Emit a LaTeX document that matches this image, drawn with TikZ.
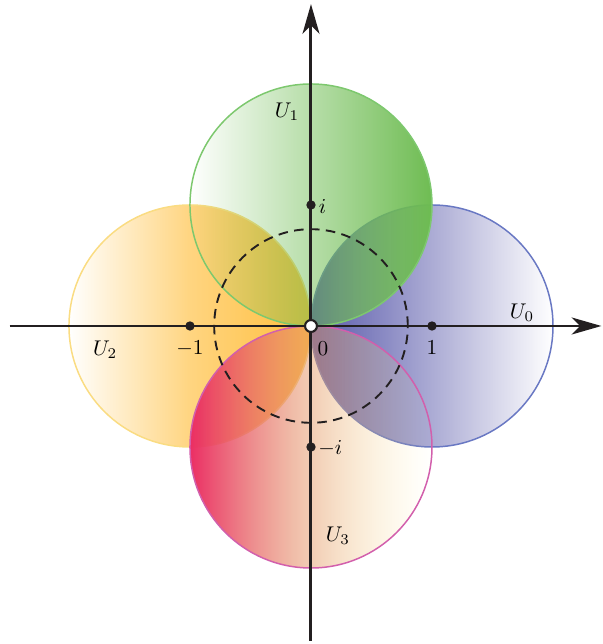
\documentclass[tikz,border=0pt]{standalone}
\usetikzlibrary{arrows.meta,fadings}
\definecolor{uzeroC}{RGB}{88,88,170}
\definecolor{uzeroD}{RGB}{105,120,195}
\definecolor{uoneC}{RGB}{110,188,82}
\definecolor{uoneD}{RGB}{125,200,110}
\definecolor{utwoC}{RGB}{255,190,60}
\definecolor{utwoD}{RGB}{250,220,130}
\definecolor{uthreeL}{RGB}{235,45,100}
\definecolor{uthreeM}{RGB}{228,155,105}
\definecolor{uthreeR}{RGB}{255,240,150}
\definecolor{uthreeD}{RGB}{210,95,172}
\definecolor{axiscol}{RGB}{35,31,32}
\tikzfading[name=opaqueright, left color=transparent!100, right color=transparent!0]
\tikzfading[name=opaquerightfast, left color=transparent!100, right color=transparent!0, middle color=transparent!35]
\tikzfading[name=opaqueleft, left color=transparent!0, right color=transparent!100]
\begin{document}
\begin{tikzpicture}[x=2cm,y=2cm,
  rim/.style={line width=0.7pt},
  axisline/.style={line width=1.4pt, draw=axiscol, -{Stealth[length=14pt,width=8pt,inset=4pt]}},
  dotpt/.style={circle, fill=axiscol, inner sep=0pt, minimum size=4.4pt},
  origpt/.style={circle, fill=white, draw=axiscol, line width=1pt, inner sep=0pt, minimum size=5.6pt},
  lbl/.style={inner sep=1pt, font=\normalsize}]
\useasboundingbox (-2.570,-2.628) rectangle (2.413,2.694);
\coordinate (c0) at (1,0);
\coordinate (c1) at (0,1);
\coordinate (c2) at (-1,0);
\coordinate (c3) at (0,-1);
% regions
\fill[uzeroC, path fading=opaqueleft] (c0) circle (1);
\draw[rim, uzeroD] (c0) circle (1);
\fill[utwoC, path fading=opaquerightfast] (c2) circle (1);
\draw[rim, utwoD] (c2) circle (1);
\fill[uoneC, path fading=opaqueright] (c1) circle (1);
\draw[rim, uoneD] (c1) circle (1);
\shade[left color=uthreeL, right color=uthreeR, middle color=uthreeM, path fading=opaqueleft] (c3) circle (1);
\draw[rim, uthreeD] (c3) circle (1);
% dashed circle
\draw[axiscol, line width=0.9pt, dash pattern=on 4.5pt off 3pt] (0,0) circle (0.8);
% axes
\coordinate (xs) at (-2.49,0);
\coordinate (xe) at (2.40,0);
\coordinate (ys) at (0,-2.6);
\coordinate (ye) at (0,2.66);
\draw[axisline] (xs) -- (xe);
\draw[axisline] (ys) -- (ye);
% points
\node[dotpt] (p1) at (1,0) {};
\node[dotpt] (pm1) at (-1,0) {};
\node[dotpt] (pi) at (0,1) {};
\node[dotpt] (pmi) at (0,-1) {};
\node[origpt] (p0) at (0,0) {};
% labels
\node[lbl] (l1) at (1,-0.18) {$1$};
\node[lbl] (lm1) at (-1,-0.19) {$-1$};
\node[lbl] (li) at (0.095,0.99) {$i$};
\node[lbl] (lmi) at (0.16,-1.015) {$-i$};
\node[lbl] (l0) at (0.099,-0.19) {$0$};
\node[lbl] (u0) at (1.744,0.107) {$U_0$};
\node[lbl] (u1) at (-0.198,1.769) {$U_1$};
\node[lbl] (u2) at (-1.702,-0.198) {$U_2$};
\node[lbl] (u3) at (0.223,-1.736) {$U_3$};
\end{tikzpicture}
\end{document}
